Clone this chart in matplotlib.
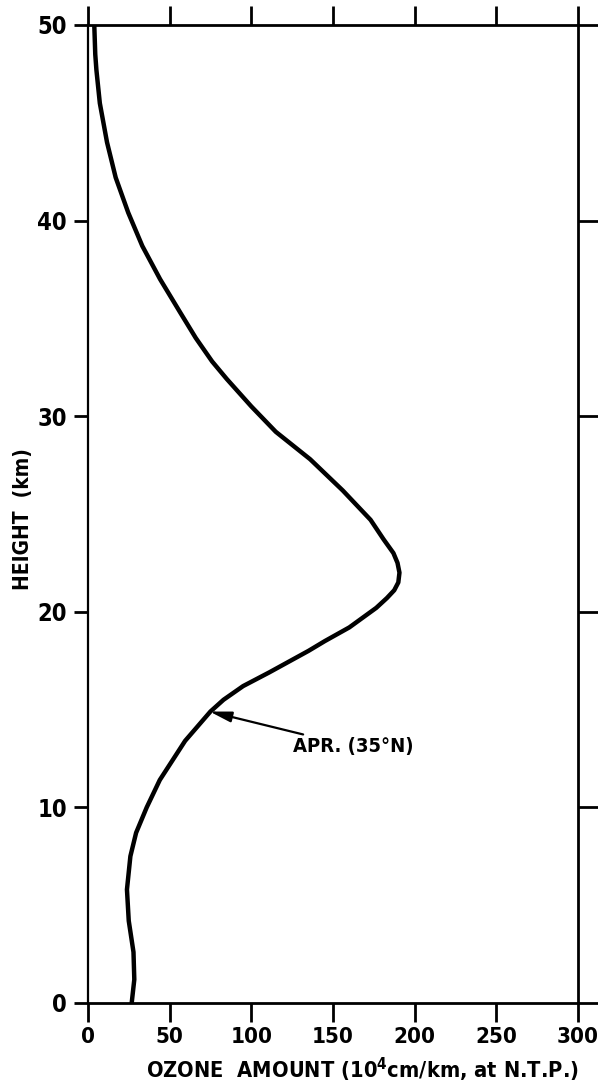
import numpy as np
import matplotlib
matplotlib.use('Agg')
import matplotlib.pyplot as plt

plt.rcParams['font.family'] = ['DejaVu Sans']
plt.rcParams['font.stretch'] = 'condensed'
plt.rcParams['font.weight'] = 'bold'
plt.rcParams['mathtext.fontset'] = 'custom'
plt.rcParams['mathtext.rm'] = 'DejaVu Sans:bold'
plt.rcParams['mathtext.it'] = 'DejaVu Sans:bold'
plt.rcParams['mathtext.bf'] = 'DejaVu Sans:bold'

#################################################
# DATA
#################################################
height = [50, 48.5, 47.7, 46.0, 44.0, 42.2, 40.4, 38.7, 37.0, 35.3, 34.0,
          32.8, 31.9, 30.5, 29.2, 27.8, 26.2, 24.7, 23.7, 23.0, 22.5, 22.0,
          21.5, 21.1, 20.7, 20.2, 19.2, 18.5, 18.0, 16.9, 16.2, 15.5,
          14.9, 13.4, 11.4, 10.0, 8.7, 7.5, 5.8, 4.2, 2.6, 1.2, 0]
ozone = [3.9, 4.5, 5.2, 7.3, 11.7, 17, 24.7, 33.3, 44.2, 56.5, 66,
         76, 85, 100, 115, 136, 156, 173, 181, 187, 189.5, 190.7,
         190, 187.5, 183, 176.5, 160, 145, 135, 111, 95, 83,
         75, 59.5, 44, 36, 29.5, 26, 23.9, 25, 27.9, 28.4, 26.8]

x_ticks = [0, 50, 100, 150, 200, 250, 300]
y_ticks = [0, 10, 20, 30, 40, 50]

label_text = 'APR. (35°N)'
label_tip = (74.5, 14.9)
label_pos = (125.5, 13.1)

#################################################
# PLOT
#################################################
fig = plt.figure(figsize=(5.98, 10.85), dpi=100)
ax = fig.add_axes([0.147, 0.0756, 0.8196, 0.9014])

ax.plot(ozone, height, color='black', lw=3.2, solid_joinstyle='round',
        solid_capstyle='round')

ax.annotate(label_text, xy=label_tip, xytext=label_pos,
            ha='left', va='center', fontsize=14.5, fontweight='bold',
            arrowprops=dict(arrowstyle='-|>,head_length=0.9,head_width=0.22',
                            color='black', lw=1.6, shrinkA=0, shrinkB=0))

ax.set_xlim(0, 300)
ax.set_ylim(0, 50)
ax.set_xticks(x_ticks)
ax.set_yticks(y_ticks)

for side in ['top', 'right', 'bottom']:
    ax.spines[side].set_linewidth(2.0)
ax.spines['left'].set_linewidth(1.6)

ax.tick_params(axis='x', which='both', direction='out', length=14, width=2.0,
               top=True, bottom=True, labelsize=16, pad=3)
ax.tick_params(axis='y', which='both', direction='out', length=10, width=2.0,
               left=True, right=True, labelsize=17, pad=5)
for t in ax.yaxis.get_major_ticks():
    t.tick2line.set_markersize(15)

ax.set_xlabel(r'OZONE  AMOUNT (10$^4$cm/km, at N.T.P.)', fontsize=15.7,
              fontweight='bold')
ax.xaxis.set_label_coords(0.561, -0.054)
ax.set_ylabel('HEIGHT  (km)', fontsize=15, fontweight='bold')
ax.yaxis.set_label_coords(-0.112, 0.495)

fig.savefig('out.png', dpi=100)
